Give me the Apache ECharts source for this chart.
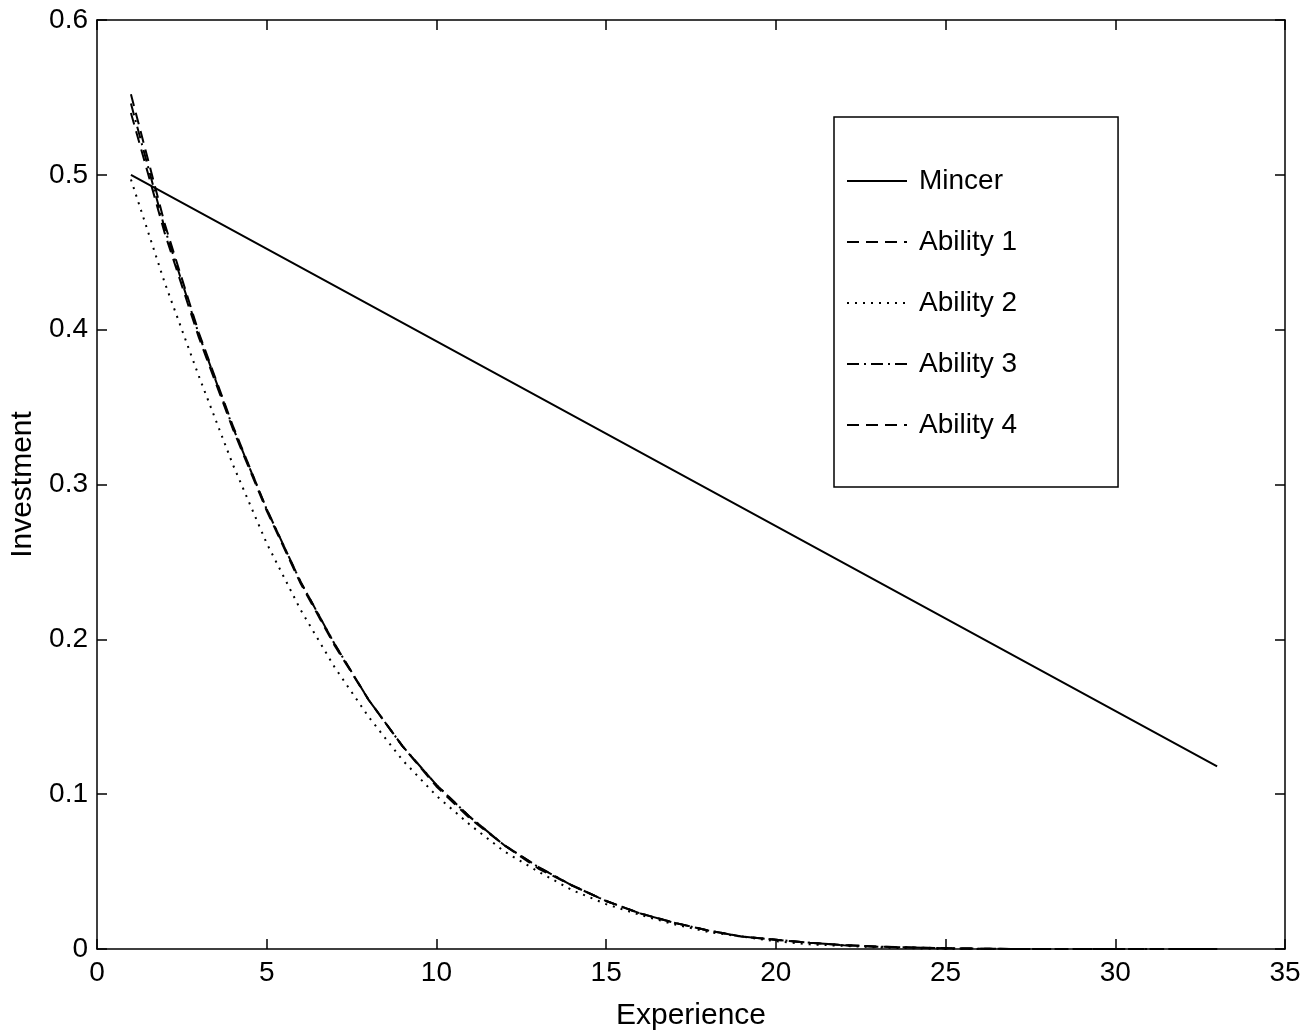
<!doctype html>
<html lang="en">
<head>
    <meta charset="UTF-8">
    <script src="https://cdn.jsdelivr.net/npm/echarts@6/dist/echarts.min.js"></script>
    <title>Investment vs Experience</title>
    <style>
        html, body { margin: 0; padding: 0; background: #fff; }
    </style>
</head>
<body>
<div id="main" style="width: 1314px;height:1036px;"></div>
<script>
    // values
    var experience = [1, 2, 3, 4, 5, 6, 7, 8, 9, 10, 11, 12, 13, 14, 15, 16, 17,
        18, 19, 20, 21, 22, 23, 24, 25, 26, 27, 28, 29, 30, 31, 32, 33];
    var mincerX = [1, 17, 33];
    var mincer = [0.5, 0.309, 0.118];
    var ability1 = [0.552, 0.468, 0.398, 0.338, 0.284, 0.237, 0.197, 0.161, 0.131, 0.106,
        0.085, 0.067, 0.053, 0.041, 0.031, 0.023, 0.017, 0.012, 0.008, 0.006,
        0.004, 0.0025, 0.0015, 0.001, 0.0005, 0.0002, 0, 0, 0, 0, 0, 0, 0];
    var ability2 = [0.497, 0.430, 0.370, 0.313, 0.262, 0.219, 0.182, 0.150, 0.122, 0.099,
        0.080, 0.063, 0.050, 0.038, 0.029, 0.022, 0.016, 0.011, 0.008, 0.005,
        0.003, 0.002, 0.001, 0.0005, 0, 0, 0, 0, 0, 0, 0, 0, 0];
    var ability3 = [0.546, 0.465, 0.397, 0.337, 0.284, 0.237, 0.197, 0.161, 0.131, 0.106,
        0.085, 0.067, 0.053, 0.041, 0.031, 0.023, 0.017, 0.012, 0.008, 0.006,
        0.004, 0.0025, 0.0015, 0.001, 0.0005, 0.0002, 0, 0, 0, 0, 0, 0, 0];
    var ability4 = [0.540, 0.462, 0.395, 0.336, 0.283, 0.236, 0.196, 0.161, 0.131, 0.105,
        0.084, 0.067, 0.052, 0.041, 0.031, 0.023, 0.017, 0.012, 0.008, 0.006,
        0.004, 0.0025, 0.0015, 0.001, 0.0005, 0.0002, 0, 0, 0, 0, 0, 0, 0];

    function pairs(xs, ys) {
        var out = [];
        for (var i = 0; i < xs.length; i++) {
            out.push([xs[i], ys[i]]);
        }
        return out;
    }

    var font = "'Liberation Sans', Arial, Helvetica, sans-serif";
    var myChart = echarts.init(document.getElementById('main'));

    function lineSeries(name, data, type) {
        return {
            name: name,
            type: 'line',
            data: data,
            showSymbol: false,
            symbol: 'none',
            smooth: false,
            silent: true,
            lineStyle: {color: '#000', width: 2, type: type},
            itemStyle: {color: '#000'}
        };
    }

    var frameAxis = {
        axisLine: {show: true, onZero: false, lineStyle: {color: '#000', width: 1.5}},
        axisTick: {show: true, inside: true, length: 10, lineStyle: {color: '#000', width: 1.5}},
        splitLine: {show: false}
    };

    var option = {
        animation: false,
        backgroundColor: '#fff',
        textStyle: {fontFamily: font},
        grid: {left: 97, right: 29, top: 20, bottom: 86, containLabel: false},
        legend: {
            orient: 'vertical',
            left: 834,
            top: 117,
            data: ['Mincer', 'Ability 1', 'Ability 2', 'Ability 3', 'Ability 4'],
            itemWidth: 60,
            itemHeight: 14,
            itemGap: 29,
            padding: [48, 101, 46, 12],
            borderColor: '#000',
            borderWidth: 1.5,
            backgroundColor: '#fff',
            inactiveColor: '#000',
            selectedMode: false,
            itemStyle: {opacity: 0},
            textStyle: {fontFamily: font, fontSize: 28, color: '#000', lineHeight: 32, padding: [0, 0, 0, 7]}
        },
        xAxis: [
            Object.assign({
                type: 'value', position: 'bottom', min: 0, max: 35, interval: 5,
                name: 'Experience', nameLocation: 'middle', nameGap: 52,
                nameTextStyle: {fontFamily: font, fontSize: 30, color: '#000'},
                axisLabel: {fontFamily: font, fontSize: 28, color: '#000', margin: 10}
            }, frameAxis),
            Object.assign({
                type: 'value', position: 'top', min: 0, max: 35, interval: 5,
                axisLabel: {show: false}
            }, frameAxis)
        ],
        yAxis: [
            Object.assign({
                type: 'value', position: 'left', min: 0, max: 0.6, interval: 0.1,
                name: 'Investment', nameLocation: 'middle', nameGap: 57,
                nameTextStyle: {fontFamily: font, fontSize: 30, color: '#000'},
                axisLabel: {fontFamily: font, fontSize: 28, color: '#000', margin: 9}
            }, frameAxis),
            Object.assign({
                type: 'value', position: 'right', min: 0, max: 0.6, interval: 0.1,
                axisLabel: {show: false}
            }, frameAxis)
        ],
        series: [
            lineSeries('Mincer', pairs(mincerX, mincer), 'solid'),
            lineSeries('Ability 1', pairs(experience, ability1), [12, 7]),
            lineSeries('Ability 2', pairs(experience, ability2), [2, 6]),
            lineSeries('Ability 3', pairs(experience, ability3), [12, 5, 2, 5]),
            lineSeries('Ability 4', pairs(experience, ability4), [12, 7])
        ]
    };

    myChart.setOption(option);
</script>
</body>
</html>
